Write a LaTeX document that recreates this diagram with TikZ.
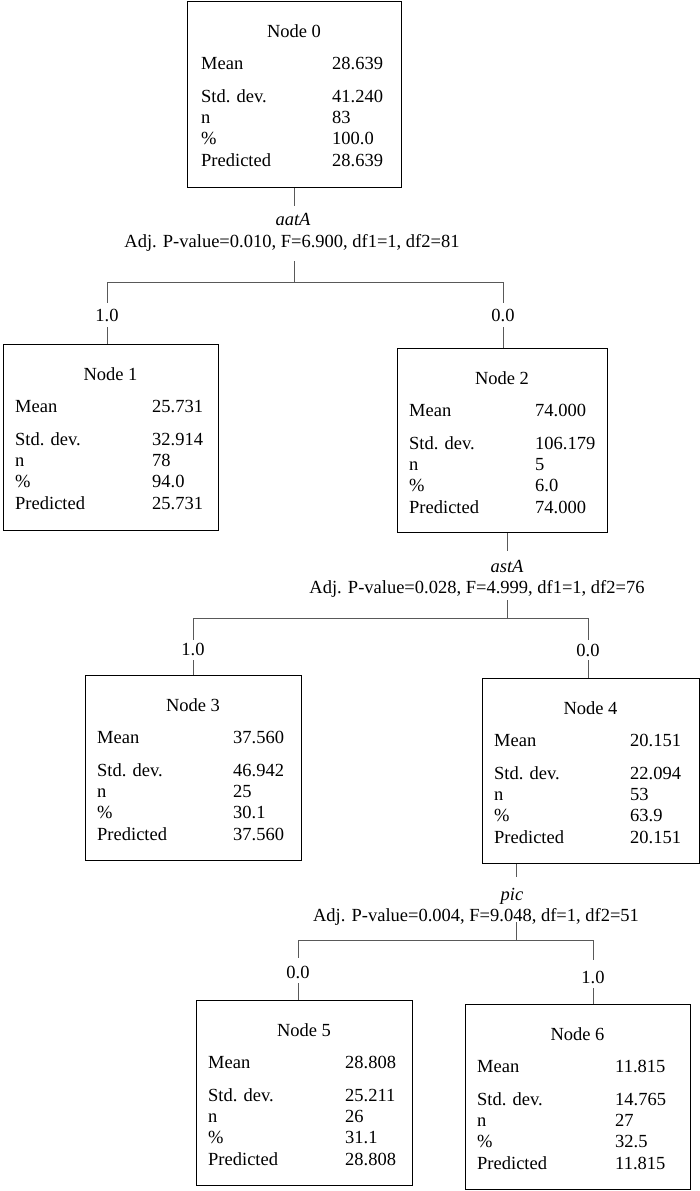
\documentclass[tikz,border=0pt]{standalone}
\usepackage{fontspec}
\setmainfont{Liberation Serif}
\begin{document}
\begin{tikzpicture}[x=1pt,y=-1pt,
  box/.style={draw=black, line width=1.4pt, inner sep=0pt, anchor=north west},
  txt/.style={inner sep=0pt, font=\fontsize{18.5}{22}\selectfont},
  lbl/.style={txt, anchor=base west},
  ttl/.style={txt, anchor=base},
  var/.style={txt, anchor=base, font=\fontsize{18.5}{22}\selectfont\itshape},
  conn/.style={draw=black!65, line width=1pt}
]
\useasboundingbox (0,0) rectangle (700,1191);

% ---------- boxes ----------
\foreach \nm/\xl/\yt/\xr/\yb/\lx/\vx/\vm/\vs/\vn/\vp/\vq in {
  0/187/1/401/187/14/145/28.639/41.240/83/100.0/28.639,
  1/3/344/218/530/12/149/25.731/32.914/78/94.0/25.731,
  2/397/348/607/532/12/138/74.000/106.179/5/6.0/74.000,
  3/85/675/301/860/12/148/37.560/46.942/25/30.1/37.560,
  4/482/678/699/863/12/148/20.151/22.094/53/63.9/20.151,
  5/196/1000/412/1185/12/149/28.808/25.211/26/31.1/28.808,
  6/465/1004/690/1189/12/150/11.815/14.765/27/32.5/11.815}{
  \node[box, minimum width={\xr-\xl}, minimum height={\yb-\yt}] (n\nm) at (\xl,\yt) {};
  \node[ttl] (n\nm title) at ({(\xl+\xr)/2},\yt+36) {Node \nm};
  \node[lbl] (n\nm ml) at (\xl+\lx,\yt+68) {Mean};
  \node[lbl] (n\nm sl) at (\xl+\lx,\yt+101) {Std. dev.};
  \node[lbl] (n\nm nl) at (\xl+\lx,\yt+122) {n};
  \node[lbl] (n\nm pl) at (\xl+\lx,\yt+143) {\%};
  \node[lbl] (n\nm ql) at (\xl+\lx,\yt+165) {Predicted};
  \node[lbl] (n\nm mv) at (\xl+\vx,\yt+68) {\vm};
  \node[lbl] (n\nm sv) at (\xl+\vx,\yt+101) {\vs};
  \node[lbl] (n\nm nv) at (\xl+\vx,\yt+122) {\vn};
  \node[lbl] (n\nm pv) at (\xl+\vx,\yt+143) {\vp};
  \node[lbl] (n\nm qv) at (\xl+\vx,\yt+165) {\vq};
}

% ---------- split 1 (aatA) ----------
\node[var] (v1) at (293,225) {aatA};
\node[ttl] (p1) at (292,247) {Adj. P-value=0.010, F=6.900, df1=1, df2=81};
\node[ttl] (b1l) at (107,321) {1.0};
\node[ttl] (b1r) at (503,321) {0.0};
\coordinate (s1a) at (294,206);
\coordinate (s1b) at (294,261);
\coordinate (j1) at (294,282);
\coordinate (j1l) at (107,282);
\coordinate (j1r) at (503,282);
\coordinate (l1a) at (107,303);
\coordinate (l1b) at (107,327);
\coordinate (r1a) at (503,303);
\coordinate (r1b) at (503,327);
\draw[conn] (s1a |- n0.south) -- (s1a);
\draw[conn] (s1b) -- (j1);
\draw[conn] (j1l) -- (j1r);
\draw[conn] (j1l) -- (l1a);
\draw[conn] (l1b) -- (l1b |- n1.north);
\draw[conn] (j1r) -- (r1a);
\draw[conn] (r1b) -- (r1b |- n2.north);

% ---------- split 2 (astA) ----------
\node[var] (v2) at (507,572) {astA};
\node[ttl] (p2) at (477,593) {Adj. P-value=0.028, F=4.999, df1=1, df2=76};
\node[ttl] (b2l) at (193,655) {1.0};
\node[ttl] (b2r) at (588,656) {0.0};
\coordinate (s2a) at (507,551);
\coordinate (s2b) at (507,600);
\coordinate (j2) at (507,618);
\coordinate (j2l) at (193,618);
\coordinate (j2r) at (588,618);
\coordinate (l2a) at (193,640);
\coordinate (l2b) at (193,660);
\coordinate (r2a) at (588,640);
\coordinate (r2b) at (588,660);
\draw[conn] (s2a |- n2.south) -- (s2a);
\draw[conn] (s2b) -- (j2);
\draw[conn] (j2l) -- (j2r);
\draw[conn] (j2l) -- (l2a);
\draw[conn] (l2b) -- (l2b |- n3.north);
\draw[conn] (j2r) -- (r2a);
\draw[conn] (r2b) -- (r2b |- n4.north);

% ---------- split 3 (pic) ----------
\node[var] (v3) at (512,900) {pic};
\node[ttl] (p3) at (476,921) {Adj. P-value=0.004, F=9.048, df=1, df2=51};
\node[ttl] (b3l) at (298,978) {0.0};
\node[ttl] (b3r) at (593,983) {1.0};
\coordinate (s3a) at (516,877);
\coordinate (s3b) at (516,922);
\coordinate (j3) at (516,940);
\coordinate (j3l) at (298,940);
\coordinate (j3r) at (593,940);
\coordinate (l3a) at (298,958);
\coordinate (l3b) at (298,983);
\coordinate (r3a) at (593,960);
\coordinate (r3b) at (593,988);
\draw[conn] (s3a |- n4.south) -- (s3a);
\draw[conn] (s3b) -- (j3);
\draw[conn] (j3l) -- (j3r);
\draw[conn] (j3l) -- (l3a);
\draw[conn] (l3b) -- (l3b |- n5.north);
\draw[conn] (j3r) -- (r3a);
\draw[conn] (r3b) -- (r3b |- n6.north);
\end{tikzpicture}
\end{document}
